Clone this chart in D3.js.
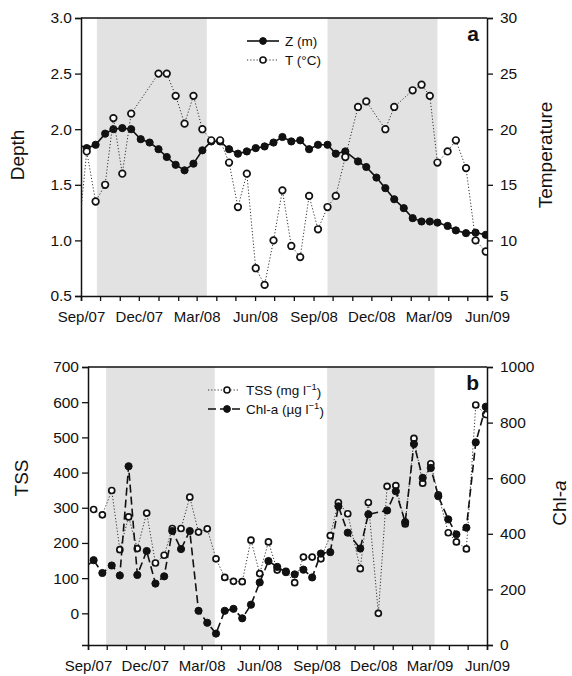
<!DOCTYPE html>
<html>
<head>
<meta charset="utf-8">
<script src="https://cdn.jsdelivr.net/npm/d3@7"></script>
<style>
  body { margin: 0; background: #fff; }
  svg { font-family: "Liberation Sans", Arial, Helvetica, sans-serif; }
</style>
</head>
<body>
<div id="chart"></div>
<script>
// sampling dates (first one lies before the axis start and is clipped)
var sampleDates = ["2007-08-27","2007-09-10","2007-09-24","2007-10-09","2007-10-22","2007-11-05","2007-11-19",
  "2007-12-04","2007-12-18","2008-01-01","2008-01-14","2008-01-28","2008-02-11","2008-02-25","2008-03-10",
  "2008-03-24","2008-04-07","2008-04-21","2008-05-05","2008-05-19","2008-06-02","2008-06-16","2008-06-30",
  "2008-07-14","2008-07-28","2008-08-11","2008-08-25","2008-09-08","2008-09-23","2008-10-06","2008-10-21",
  "2008-11-10","2008-11-23","2008-12-09","2008-12-23","2009-01-06","2009-01-21","2009-02-04","2009-02-18",
  "2009-03-03","2009-03-15","2009-03-31","2009-04-13","2009-04-29","2009-05-14","2009-05-30"];

// panel a
var depthZ = [1.86, 1.83,1.86,1.96,2.00,2.01,2.00,1.91,1.88,1.82,1.75,1.68,1.63,1.69,1.81,1.89,1.89,1.82,1.78,
  1.80,1.83,1.845,1.88,1.93,1.89,1.90,1.82,1.86,1.86,1.78,1.80,1.71,1.66,1.565,1.47,1.37,1.29,1.20,1.17,1.17,
  1.16,1.13,1.09,1.065,1.07,1.05];
var tempT = [9.8, 18,13.5,15,21,16,21.4,null,null,25,25,23,20.5,23,20,19,19,17,13,16,7.5,6,10,14.5,9.5,8.5,14,
  11,13,14,17.5,22,22.5,null,20,22,null,23.5,24,23,17,18,19,16.5,10,9];

// panel b
var tss = [null, 295,280,349,181,274,184,285,143,165,241,241,330,231,240,155,102,91,90,208,113,203,123,119,87,
  160,160,155,221,315,283,127,315,0,361,363,254,497,370,425,337,229,203,183,592,565];
var chla = [278, 305,259,286,250,643,252,338,221,247,410,345,410,123,80,41,123,130,96,145,225,302,281,262,254,
  271,243,329,334,499,404,347,470,null,484,553,442,723,601,637,535,452,398,422,729,857];

// shaded periods
var shadeA = [["2007-09-26","2008-03-17"],["2008-09-23","2009-03-15"]];
var shadeB = [["2007-09-30","2008-03-22"],["2008-09-18","2009-03-09"]];

var depthTicks = [0.5,1.0,1.5,2.0,2.5,3.0];
var tempTicks = [5,10,15,20,25,30];
var tssTicks = [0,100,200,300,400,500,600,700];
var chlTicks = [0,200,400,600,800,1000];

var W = 572, H = 676;
var parse = d3.timeParse("%Y-%m-%d");
var fmtMonth = d3.timeFormat("%b/%y");
var t0 = parse("2007-09-01"), t1 = parse("2009-06-01");

var svg = d3.select("#chart").append("svg").attr("width", W).attr("height", H);

function series(vals) {
  return sampleDates.map(function(d, i) { return {date: parse(d), v: vals[i]}; })
    .filter(function(d) { return d.v != null; });
}

function panel(opt) {
  var g = svg.append("g").attr("transform", "translate(" + opt.left + "," + opt.top + ")");
  var w = opt.width, h = opt.height;
  var x = d3.scaleTime().domain([t0, t1]).range([0, w]);
  var yL = d3.scaleLinear().domain(opt.leftDomain).range([h, 0]);
  var yR = d3.scaleLinear().domain(opt.rightDomain).range([h, 0]);

  g.append("clipPath").attr("id", opt.id + "clip")
    .append("rect").attr("width", w).attr("height", h);

  g.selectAll("rect.shade").data(opt.shade).enter().append("rect")
    .attr("class", "shade")
    .attr("x", function(d) { return x(parse(d[0])); })
    .attr("width", function(d) { return x(parse(d[1])) - x(parse(d[0])); })
    .attr("y", 0).attr("height", h)
    .attr("fill", "#e2e2e2");

  // frame top line
  g.append("line").attr("x1", 0).attr("x2", w).attr("y1", 0).attr("y2", 0)
    .attr("stroke", "#111").attr("stroke-width", 1.5);

  var xAxis = g.append("g").attr("transform", "translate(0," + h + ")")
    .call(d3.axisBottom(x).ticks(d3.timeMonth.every(1)).tickSize(5)
      .tickFormat(function(d) { return d.getMonth() % 3 === 2 ? fmtMonth(d) : ""; }));
  var yAxisL = g.append("g")
    .call(d3.axisLeft(yL).tickValues(opt.leftTicks).tickSize(6).tickFormat(opt.leftFormat));
  var yAxisR = g.append("g").attr("transform", "translate(" + w + ",0)")
    .call(d3.axisRight(yR).tickValues(opt.rightTicks).tickSize(6).tickFormat(d3.format("d")));

  [xAxis, yAxisL, yAxisR].forEach(function(a) {
    a.select(".domain").attr("stroke", "#111").attr("stroke-width", 1.5);
    a.selectAll(".tick line").attr("stroke", "#111").attr("stroke-width", 1.3);
    a.selectAll("text").attr("fill", "#111").style("font-size", "15.5px");
  });
  xAxis.selectAll("text").attr("dy", "1.2em").style("font-size", "15px");
  yAxisL.selectAll("text").attr("x", -9);
  yAxisR.selectAll("text").attr("x", 13);

  var plot = g.append("g").attr("clip-path", "url(#" + opt.id + "clip)");
  opt.layers.forEach(function(L) {
    var y = L.axis === "left" ? yL : yR;
    var data = series(L.values);
    var line = d3.line().x(function(d) { return x(d.date); }).y(function(d) { return y(d.v); });
    plot.append("path").datum(data).attr("d", line)
      .attr("fill", "none").attr("stroke", L.lineColor)
      .attr("stroke-width", L.lineWidth).attr("stroke-dasharray", L.dash);
    plot.selectAll(null).data(data).enter().append("circle")
      .attr("cx", function(d) { return x(d.date); })
      .attr("cy", function(d) { return y(d.v); })
      .attr("r", L.r)
      .attr("fill", L.filled ? "#111" : "#fff")
      .attr("stroke", "#111").attr("stroke-width", L.filled ? 1 : 1.7);
  });

  // legend
  var lg = g.append("g").attr("transform", "translate(" + opt.legend[0] + "," + opt.legend[1] + ")");
  opt.legendItems.forEach(function(L, i) {
    var yy = i * 19;
    lg.append("line").attr("x1", L.x1).attr("x2", 32).attr("y1", yy).attr("y2", yy)
      .attr("stroke", L.lineColor).attr("stroke-width", L.lineWidth).attr("stroke-dasharray", L.dash);
    lg.append("circle").attr("cx", L.cx).attr("cy", yy).attr("r", L.r)
      .attr("fill", L.filled ? "#111" : "#fff").attr("stroke", "#111")
      .attr("stroke-width", L.filled ? 1 : 1.6);
    var t = lg.append("text").attr("x", 38).attr("y", yy).attr("dy", "0.35em")
      .style("font-size", "13.5px").attr("fill", "#111");
    L.label(t);
  });

  g.append("text").attr("x", w - 8).attr("y", 23).attr("text-anchor", "end")
    .style("font-size", "21px").style("font-weight", "bold").attr("fill", "#111").text(opt.letter);

  return g;
}

function sup(t, main, s, tail) {
  t.append("tspan").text(main);
  t.append("tspan").attr("dy", "-0.45em").style("font-size", "9.5px").text(s);
  t.append("tspan").attr("dy", "0.45em").text(tail);
}

panel({
  id: "a", left: 81, top: 18, width: 406, height: 278,
  leftDomain: [0.5, 3.0], rightDomain: [5, 30],
  leftTicks: depthTicks, rightTicks: tempTicks, leftFormat: d3.format(".1f"),
  shade: shadeA, letter: "a",
  layers: [
    {values: depthZ, axis: "left", lineColor: "#111", lineWidth: 1.6, dash: null, r: 3.6, filled: true},
    {values: tempT, axis: "right", lineColor: "#333", lineWidth: 1, dash: "1.2,2", r: 3.3, filled: false}
  ],
  legend: [166, 23],
  legendItems: [
    {x1: 0, cx: 16, lineColor: "#111", lineWidth: 1.6, dash: null, r: 3.4, filled: true,
      label: function(t) { t.text("Z (m)"); }},
    {x1: 0, cx: 16, lineColor: "#333", lineWidth: 1, dash: "1.2,2", r: 3, filled: false,
      label: function(t) { t.text("T (\u00B0C)"); }}
  ]
});

panel({
  id: "b", left: 88, top: 367, width: 399, height: 278,
  leftDomain: [-90, 700], rightDomain: [0, 1000],
  leftTicks: tssTicks, rightTicks: chlTicks, leftFormat: d3.format("d"),
  shade: shadeB, letter: "b",
  layers: [
    {values: tss, axis: "left", lineColor: "#333", lineWidth: 1, dash: "1.2,2", r: 3, filled: false},
    {values: chla, axis: "right", lineColor: "#111", lineWidth: 1.6, dash: "8,4", r: 3.6, filled: true}
  ],
  legend: [120, 23],
  legendItems: [
    {x1: 0, cx: 19, lineColor: "#333", lineWidth: 1, dash: "1.2,2", r: 3, filled: false,
      label: function(t) { sup(t, "TSS (mg l", "\u22121", ")"); }},
    {x1: 0, cx: 19, lineColor: "#111", lineWidth: 1.6, dash: "8,4", r: 3.4, filled: true,
      label: function(t) { sup(t, "Chl-a (\u00B5g l", "\u22121", ")"); }}
  ]
});

// axis titles
function vtitle(x, y, build) {
  var t = svg.append("text").attr("transform", "translate(" + x + "," + y + ") rotate(-90)")
    .attr("text-anchor", "middle").attr("dy", "0.35em").style("font-size", "19px").attr("fill", "#111");
  build(t);
}
vtitle(17, 155, function(t) { t.text("Depth"); });
vtitle(545, 155, function(t) { t.text("Temperature"); });
vtitle(21, 478, function(t) { t.text("TSS"); });
vtitle(559, 503, function(t) {
  t.append("tspan").text("Chl-");
  t.append("tspan").style("font-style", "italic").text("a");
});
</script>
</body>
</html>
